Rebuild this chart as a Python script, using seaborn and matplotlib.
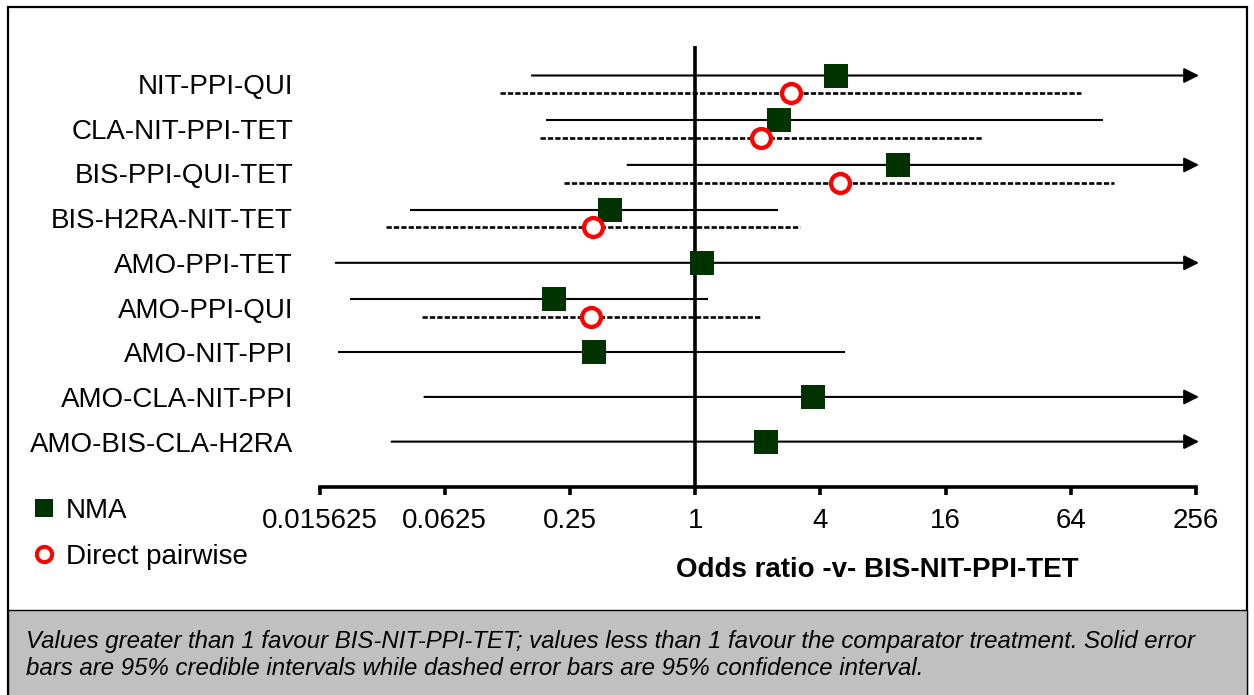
import numpy as np
import pandas as pd
import matplotlib
matplotlib.use("Agg")
import matplotlib.pyplot as plt
from matplotlib.patches import Rectangle
from matplotlib.lines import Line2D
import seaborn as sns

# Comparators versus BIS-NIT-PPI-TET
categories = ["NIT-PPI-QUI", "CLA-NIT-PPI-TET", "BIS-PPI-QUI-TET", "BIS-H2RA-NIT-TET",
              "AMO-PPI-TET", "AMO-PPI-QUI", "AMO-NIT-PPI", "AMO-CLA-NIT-PPI",
              "AMO-BIS-CLA-H2RA"]

# Network meta-analysis: odds ratio and 95% credible interval
nma_or = [4.75, 2.52, 9.44, 0.389, 1.08, 0.209, 0.326, 3.68, 2.18]
nma_lo = [0.164, 0.192, 0.473, 0.0424, 0.0187, 0.0218, 0.0192, 0.0499, 0.0347]
nma_hi = [300.0, 91.8, 300.0, 2.51, 300.0, 1.15, 5.25, 300.0, 300.0]

# Direct pairwise meta-analysis: odds ratio and 95% confidence interval
nan = np.nan
pw_or = [2.90, 2.08, 4.98, 0.322, nan, 0.315, nan, nan, nan]
pw_lo = [0.115, 0.180, 0.233, 0.0326, nan, 0.0486, nan, nan, nan]
pw_hi = [72.0, 24.2, 103.0, 3.20, nan, 2.08, nan, nan, nan]

tick_values = [2.0 ** k for k in range(-6, 9, 2)]
tick_labels = ["0.015625", "0.0625", "0.25", "1", "4", "16", "64", "256"]

sns.set_theme(style="white")
plt.rcParams["font.family"] = ["Liberation Sans", "DejaVu Sans"]
plt.rcParams["text.color"] = "black"

W, H = 1254, 695
fig = plt.figure(figsize=(W / 100, H / 100), dpi=100)
fig.patch.set_facecolor("white")

# outer frame and grey footnote panel
fig.add_artist(Rectangle((7.5 / W, -0.02), (1247 - 7.5) / W, 1.02 - 7 / H,
                         transform=fig.transFigure, fill=False,
                         edgecolor="black", lw=1.6, zorder=0))
fig.add_artist(Rectangle((7.5 / W, -0.02), (1247 - 7.5) / W, 0.02 + (H - 610) / H,
                         transform=fig.transFigure, facecolor="#c0c0c0",
                         edgecolor="black", lw=1.0, zorder=0))

ax = fig.add_axes([319.5 / W, 1 - 487 / H, (1196 - 319.5) / W, (487 - 46) / H])
ax.set_facecolor("none")

n = len(categories)
ypos = np.arange(n, dtype=float)
has_pw = ~np.isnan(np.array(pw_or))
y_nma = np.where(has_pw, ypos - 0.19, ypos)
y_pw = ypos + 0.21

xmin, xmax = 2.0 ** -6, 2.0 ** 8
ax.set_xscale("log", base=2)
ax.set_xlim(xmin, xmax)
ax.set_ylim(n - 1 + 1.015, -0.85)

nma = pd.DataFrame({"comparator": categories, "or": nma_or, "lo": nma_lo,
                    "hi": nma_hi, "y": y_nma})
pw = pd.DataFrame({"comparator": categories, "or": pw_or, "lo": pw_lo,
                   "hi": pw_hi, "y": y_pw}).dropna()

# arrow tip sits just past the last tick
arrow_tip = xmax * 2 ** (3 / 62.5)

# credible intervals (solid), arrow where the interval runs off the scale
for _, r in nma.iterrows():
    if r["hi"] > xmax:
        ax.annotate("", xy=(arrow_tip, r["y"]), xytext=(r["lo"], r["y"]),
                    xycoords="data", textcoords="data", annotation_clip=False,
                    arrowprops=dict(arrowstyle="-|>,head_length=0.9,head_width=0.45",
                                    mutation_scale=10, color="black", lw=1.5,
                                    shrinkA=0, shrinkB=0), zorder=2)
    else:
        ax.plot([r["lo"], r["hi"]], [r["y"], r["y"]], color="black", lw=1.5,
                solid_capstyle="butt", zorder=2)

# confidence intervals (dashed)
for _, r in pw.iterrows():
    ax.plot([r["lo"], r["hi"]], [r["y"], r["y"]], color="black", lw=1.9,
            dashes=(2.0, 0.8), zorder=2)

ax.axvline(1, color="black", lw=2.6, zorder=1)

sns.scatterplot(data=nma, x="or", y="y", marker="s", s=300, color="#003300",
                linewidth=0, ax=ax, zorder=4, legend=False)
sns.scatterplot(data=pw, x="or", y="y", marker="o", s=185, facecolor="white",
                edgecolor="#ff0000", linewidth=3.1, ax=ax, zorder=5, legend=False)

# axes styling
for side in ["top", "right", "left"]:
    ax.spines[side].set_visible(False)
ax.spines["bottom"].set_linewidth(2.6)
ax.spines["bottom"].set_color("black")
ax.set_xticks(tick_values)
ax.set_xticklabels(tick_labels)
ax.xaxis.set_minor_locator(matplotlib.ticker.NullLocator())
ax.tick_params(axis="x", which="major", direction="out", length=6, width=2.6,
               color="black", labelsize=20, pad=9, bottom=True, labelcolor="black")
ax.set_yticks(ypos)
ax.set_yticklabels(categories)
ax.tick_params(axis="y", length=0, pad=19, labelsize=20, labelcolor="black")
ax.grid(False)
ax.set_ylabel("")
ax.set_xlabel("Odds ratio -v- BIS-NIT-PPI-TET", fontsize=20, fontweight="bold",
              color="black")
ax.xaxis.label.set_va("center")
ax.xaxis.set_label_coords((877.5 - 319.5) / (1196 - 319.5), (487 - 570) / (487 - 46))

handles = [Line2D([], [], marker="s", ls="none", color="#003300", markersize=12.5,
                  markeredgewidth=0),
           Line2D([], [], marker="o", ls="none", markerfacecolor="white",
                  markeredgecolor="#ff0000", markeredgewidth=2.9, markersize=11)]
fig.legend(handles, ["NMA", "Direct pairwise"], loc="center left",
           bbox_to_anchor=(30 / W, 1 - 534 / H), frameon=False, fontsize=20,
           handlelength=1.0, handletextpad=0.29, labelspacing=0.72, borderpad=0,
           borderaxespad=0, labelcolor="black")

fig.text(26 / W, 1 - 655 / H,
         "Values greater than 1 favour BIS-NIT-PPI-TET; values less than 1 favour the "
         "comparator treatment. Solid error\nbars are 95% credible intervals while dashed "
         "error bars are 95% confidence interval.",
         fontsize=17.3, style="italic", ha="left", va="center", linespacing=1.22,
         color="black")

fig.savefig("out.png", dpi=100, facecolor="white")
